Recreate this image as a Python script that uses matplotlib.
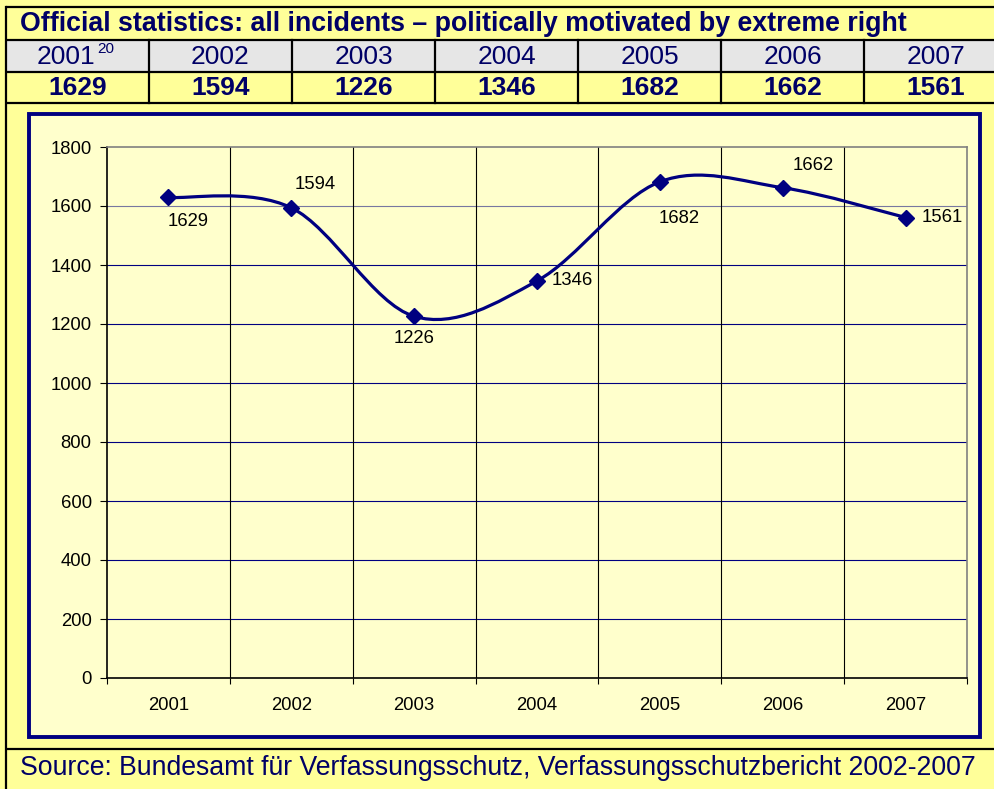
import matplotlib
matplotlib.use("Agg")
import matplotlib.pyplot as plt
from matplotlib.path import Path
from matplotlib.patches import PathPatch, Rectangle

years = ["2001", "2002", "2003", "2004", "2005", "2006", "2007"]
incidents = [1629, 1594, 1226, 1346, 1682, 1662, 1561]
y_ticks = [0, 200, 400, 600, 800, 1000, 1200, 1400, 1600, 1800]
title = "Official statistics: all incidents \u2013 politically motivated by extreme right"
source = "Source: Bundesamt f\u00fcr Verfassungsschutz, Verfassungsschutzbericht 2002-2007"
footnote = "20"

NAVY = "#000080"
TEXT = "#000066"
plt.rcParams["font.family"] = ["Liberation Sans", "DejaVu Sans"]


def smooth_path(xs, ys):
    # excel style smoothed line: bezier pieces through every point
    pts = list(zip(xs, ys))
    n = len(pts)
    verts = [pts[0]]
    codes = [Path.MOVETO]
    for i in range(n - 1):
        p0 = pts[max(i - 1, 0)]
        p1 = pts[i]
        p2 = pts[i + 1]
        p3 = pts[min(i + 2, n - 1)]
        c1 = (p1[0] + (p2[0] - p0[0]) / 6, p1[1] + (p2[1] - p0[1]) / 6)
        c2 = (p2[0] - (p3[0] - p1[0]) / 6, p2[1] - (p3[1] - p1[1]) / 6)
        verts += [c1, c2, p2]
        codes += [Path.CURVE4] * 3
    return Path(verts, codes)


fig = plt.figure(figsize=(9.94, 7.89), dpi=100, facecolor="#FFFF99")

# table / frame drawn in pixel coordinates
bg = fig.add_axes([0, 0, 1, 1], zorder=0)
bg.set_xlim(0, 994)
bg.set_ylim(789, 0)
bg.axis("off")

col_x = [6 + i * 143 for i in range(8)]
bg.add_patch(Rectangle((6, 40), 1000, 32, facecolor="#E6E6E6", edgecolor="none"))
bg.add_patch(Rectangle((29, 114), 951, 623, facecolor="#FFFFCC", edgecolor=NAVY, lw=2.8))
for yy in [7, 40, 72, 103, 749]:
    bg.plot([6, 1000], [yy, yy], color="black", lw=1.6, solid_capstyle="butt")
bg.plot([6, 6], [7, 789], color="black", lw=1.6)
for xx in col_x[1:-1]:
    bg.plot([xx, xx], [40, 103], color="black", lw=1.6)

bg.text(20, 24, title, fontsize=19.3, fontweight="bold", color=TEXT, va="center")
for i, yr in enumerate(years):
    cx = (col_x[i] + col_x[i + 1]) / 2
    if i == 0:
        bg.text(cx + 18, 57, yr, fontsize=19, color=TEXT, va="center", ha="right")
        bg.text(cx + 20, 42, footnote, fontsize=11, color=TEXT, va="top", ha="left")
    else:
        bg.text(cx, 57, yr, fontsize=19, color=TEXT, va="center", ha="center")
    bg.text(cx, 88, str(incidents[i]), fontsize=19, fontweight="bold",
            color=TEXT, va="center", ha="center")
bg.text(20, 768, source, fontsize=19.2, color=TEXT, va="center")

# the chart itself
ax = fig.add_axes([107 / 994, 1 - 678 / 789, 860 / 994, 531 / 789], zorder=1)
ax.set_facecolor("none")
xs = list(range(1, len(years) + 1))
ax.set_xlim(0.5, len(years) + 0.5)
ax.set_ylim(0, 1800)

for t in y_ticks[1:-1]:
    ax.axhline(t, color="#7878A0" if t == 1600 else NAVY, lw=0.8, zorder=1)
for b in range(1, len(years)):
    ax.axvline(b + 0.5, color="black", lw=0.8, zorder=1)

ax.spines["top"].set_color("#808080")
ax.spines["right"].set_color("#808080")
for s in ax.spines.values():
    s.set_linewidth(1.2)
ax.spines["left"].set_color("black")
ax.spines["bottom"].set_color("black")

ax.set_yticks(y_ticks)
ax.set_yticklabels([str(t) for t in y_ticks], fontsize=13.3)
ax.tick_params(axis="y", length=5, width=0.8, pad=6, direction="out")
ax.set_xticks(xs)
ax.set_xticklabels(years, fontsize=13.3)
ax.tick_params(axis="x", which="major", length=0, pad=14)
ax.set_xticks([b + 0.5 for b in range(0, len(years) + 1)], minor=True)
ax.tick_params(axis="x", which="minor", length=4.3, width=0.8, direction="out")

ax.add_patch(PathPatch(smooth_path(xs, incidents), facecolor="none",
                       edgecolor=NAVY, lw=2.3, zorder=3))
ax.plot(xs, incidents, linestyle="none", marker="D", markersize=8.5,
        color=NAVY, zorder=4, clip_on=False)

label_pos = [((-1, -16), "left", "top"), ((3, 15), "left", "bottom"),
             ((0, -14), "center", "top"), ((15, 0), "left", "center"),
             ((-1, -28), "left", "top"), ((10, 14), "left", "bottom"),
             ((16, 0), "left", "center")]
for x, v, (off, ha, va) in zip(xs, incidents, label_pos):
    ax.annotate(str(v), (x, v), xytext=off, textcoords="offset pixels",
                ha=ha, va=va, fontsize=13.3, color="black", zorder=5)

fig.savefig("out.png", dpi=100, facecolor=fig.get_facecolor())
